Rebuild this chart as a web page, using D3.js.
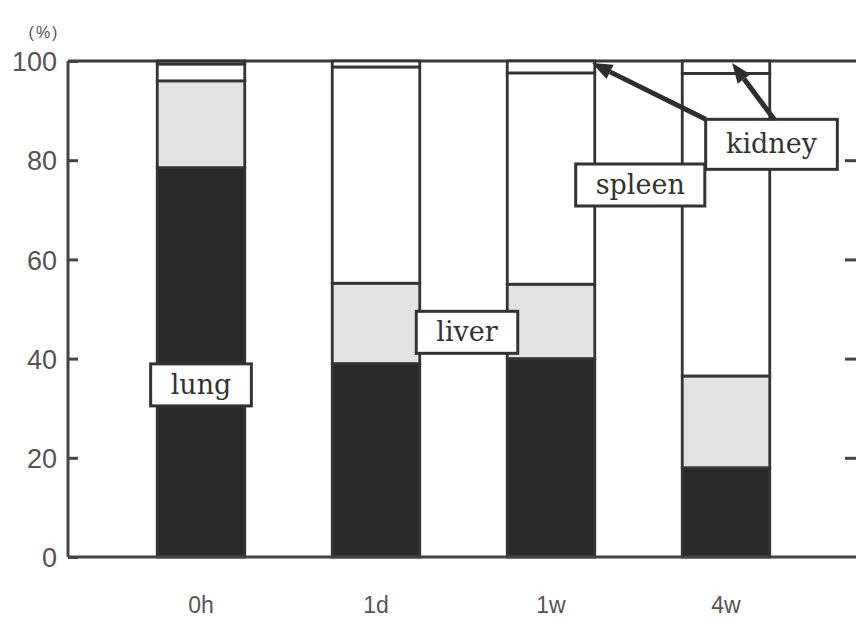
<!DOCTYPE html>
<html>
<head>
<meta charset="utf-8">
<script src="https://cdn.jsdelivr.net/npm/d3@7"></script>
<style>
  html, body { margin: 0; padding: 0; background: #fff; }
  svg { display: block; }
</style>
</head>
<body>
<svg id="chart" width="856" height="619"></svg>
<script>
// ---- data ----
const categories = ["0h", "1d", "1w", "4w"];
const lung   = [78.5, 39.0, 40.0, 18.0];
const liver  = [17.5, 16.2, 15.0, 18.5];
const spleen = [3.4, 43.6, 42.6, 61.0];
const kidney = [0.6, 1.2, 2.4, 2.5];
const seriesNames = ["lung", "liver", "spleen", "kidney"];
const seriesFill = { lung: "#2a2a2a", liver: "#e2e2e0", spleen: "#ffffff", kidney: "#ffffff" };
const yTicks = [0, 20, 40, 60, 80, 100];
const yUnit = "(%)";
// labels: text, category, offset in steps from band centre, value
const labelNames = ["lung", "liver", "spleen", "kidney"];
const labelCats = ["0h", "1d", "1w", "4w"];
const labelOffsets = [0, 0.52, 0.51, 0.26];
const labelValues = [34.7, 45.3, 75.0, 83.2];
// kidney arrows point to kidney segments of these categories
const arrowCats = ["1w", "4w"];
const arrowPos = [0.97, 0.57];

(function () {
const svg = d3.select("#chart");
const mLeft = 68, mRight = 856, mTop = 61, mBottom = 557;
const ink = "#333";

const x = d3.scaleBand().domain(categories).range([113.5, 813.5]).paddingInner(0.5).paddingOuter(0.25);
const y = d3.scaleLinear().domain([0, 100]).range([mBottom, mTop]);
const bw = x.bandwidth();
const cx = c => x(c) + bw / 2;

const table = categories.map((c, i) => ({ cat: c, lung: lung[i], liver: liver[i], spleen: spleen[i], kidney: kidney[i] }));
const stacked = d3.stack().keys(seriesNames)(table);

// top frame line
svg.append("line").attr("x1", mLeft).attr("x2", mRight + 5).attr("y1", mTop).attr("y2", mTop)
  .attr("stroke", "#3a3a3a").attr("stroke-width", 3);

// bars
stacked.forEach(s => {
  svg.append("g").selectAll("rect").data(s).join("rect")
    .attr("x", d => x(d.data.cat))
    .attr("y", d => y(d[1]))
    .attr("width", bw)
    .attr("height", d => y(d[0]) - y(d[1]))
    .attr("fill", seriesFill[s.key])
    .attr("stroke", ink).attr("stroke-width", 2.8);
});

// left axis
const yAxis = d3.axisLeft(y).tickValues(yTicks).tickSize(-10).tickPadding(11);
const gy = svg.append("g").attr("transform", `translate(${mLeft},0)`).call(yAxis);
gy.select(".domain").attr("stroke", "#444").attr("stroke-width", 3).attr("d", `M0,${mTop}V${mBottom}`);
gy.selectAll(".tick line").attr("stroke", "#444").attr("stroke-width", 3);
gy.selectAll(".tick text").attr("font-family", "Liberation Sans, Arial, sans-serif")
  .attr("font-size", 27).attr("fill", "#555").attr("dy", "0.36em");

// right axis ticks (inward)
const yAxisR = d3.axisRight(y).tickValues(yTicks.filter(v => v > 0 && v < 100)).tickSize(-11).tickFormat("");
const gr = svg.append("g").attr("transform", `translate(${mRight},0)`).call(yAxisR);
gr.select(".domain").remove();
gr.selectAll(".tick line").attr("stroke", "#444").attr("stroke-width", 3);

// bottom axis
const xAxis = d3.axisBottom(x).tickSize(0).tickPadding(40);
const gx = svg.append("g").attr("transform", `translate(0,${mBottom})`).call(xAxis);
gx.select(".domain").attr("stroke", "#444").attr("stroke-width", 3).attr("d", `M${mLeft},0H${mRight + 5}`);
gx.selectAll(".tick text").attr("font-family", "Liberation Sans, Arial, sans-serif")
  .attr("font-size", 23).attr("fill", "#555");

// unit label
svg.append("text").attr("x", 44).attr("y", 38).attr("text-anchor", "middle")
  .attr("font-family", "Liberation Sans, Arial, sans-serif").attr("font-size", 16).attr("fill", "#555")
  .attr("letter-spacing", 2)
  .text(yUnit);

// annotation boxes
const step = x.step();
const boxes = {};
labelNames.forEach((name, i) => {
  const bx = cx(labelCats[i]) + labelOffsets[i] * step;
  const by = y(labelValues[i]);
  const g = svg.append("g");
  const t = g.append("text").attr("x", bx).attr("y", by).attr("text-anchor", "middle")
    .attr("dy", "0.32em")
    .attr("font-family", "DejaVu Serif, serif").attr("font-size", 27).attr("fill", "#333")
    .text(name);
  const bb = t.node().getBBox();
  const bwid = bb.width + 40, bh = name === "kidney" ? 50 : 42;
  const r = { x: bx - bwid / 2, y: by - bh / 2, w: bwid, h: bh };
  boxes[name] = r;
  g.insert("rect", "text").attr("x", r.x).attr("y", r.y).attr("width", r.w).attr("height", r.h)
    .attr("fill", "#fff").attr("stroke", ink).attr("stroke-width", 3);
});

// arrows from kidney box
const kb = boxes["kidney"];
const starts = [[kb.x, kb.y], [kb.x + kb.w * 0.52, kb.y]];
arrowCats.forEach((c, i) => {
  const tx = x(c) + bw * arrowPos[i], ty = y(99.6);
  const [sx, sy] = starts[i];
  const ang = Math.atan2(ty - sy, tx - sx);
  const hl = 20, hw = 8;
  const bxp = tx - hl * Math.cos(ang), byp = ty - hl * Math.sin(ang);
  svg.append("line").attr("x1", sx).attr("y1", sy).attr("x2", bxp).attr("y2", byp)
    .attr("stroke", "#2e2e2e").attr("stroke-width", 5);
  const px = -Math.sin(ang), py = Math.cos(ang);
  svg.append("path")
    .attr("d", `M${tx},${ty}L${bxp + px * hw},${byp + py * hw}L${bxp - px * hw},${byp - py * hw}Z`)
    .attr("fill", "#2e2e2e");
});
})();
</script>
</body>
</html>
